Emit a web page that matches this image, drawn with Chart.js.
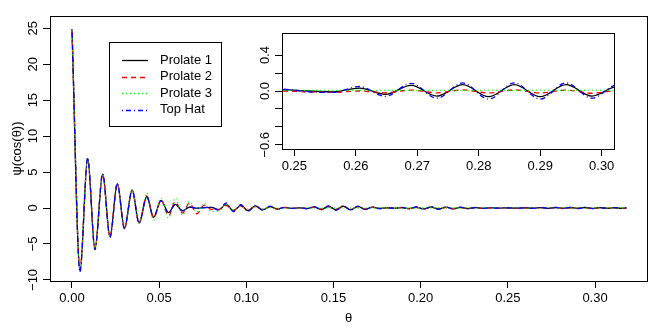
<!DOCTYPE html>
<html>
<head>
<meta charset="utf-8">
<script src="https://cdn.jsdelivr.net/npm/chart.js@4.4.0/dist/chart.umd.min.js"></script>
<style>
  html, body { margin: 0; padding: 0; background: #fff; }
  #wrap { position: relative; width: 664px; height: 332px; }
  #main { position: absolute; left: 0; top: 0; }
  #inset { position: absolute; left: 240px; top: 25px; }
</style>
</head>
<body>
<div id="wrap">
  <canvas id="main" width="664" height="332"></canvas>
  <canvas id="inset" width="384" height="150"></canvas>
</div>
<script>
// theta positions (peaks / troughs)
const theta = [0, 0.0046, 0.0090, 0.0132, 0.0176, 0.0218, 0.0260, 0.0301, 0.0345, 0.0385,
  0.0429, 0.0468, 0.0511, 0.0554, 0.0592, 0.0634, 0.0674, 0.0716, 0.0758, 0.0800,
  0.0842, 0.0884, 0.0926, 0.0968, 0.1010, 0.1052, 0.1094, 0.1136, 0.1178, 0.1220,
  0.1262, 0.1304, 0.1346, 0.1388, 0.1430, 0.1472, 0.1514, 0.1556, 0.1598, 0.1640,
  0.1682, 0.1724, 0.1766, 0.1808, 0.1850, 0.1892, 0.1934, 0.1976, 0.2018, 0.2060,
  0.2102, 0.2144, 0.2186, 0.2228, 0.2270, 0.2312, 0.2354, 0.2396, 0.2438, 0.2480,
  0.2522, 0.2564, 0.2606, 0.2648, 0.2690, 0.2732, 0.2774, 0.2816, 0.2858, 0.2900,
  0.2942, 0.2984, 0.3026, 0.3068, 0.3110, 0.3152, 0.3180];

const prolate1 = [24.8, -8.8, 6.9, -5.7, 4.7, -4.0, 3.4, -2.8, 2.5, -2.1,
  1.6, -1.3, 1.05, -0.65, 0.5, -0.37, 0.12, -0.03, 0.04, 0.08,
  -0.25, 0.5, -0.4, 0.37, -0.36, 0.3, -0.27, 0.2, -0.15, 0.1,
  -0.05, 0.03, -0.08, 0.15, -0.22, 0.25, -0.26, 0.26, -0.25, 0.22,
  -0.18, 0.12, -0.07, 0.03, -0.03, 0.06, -0.09, 0.12, -0.13, 0.14,
  -0.14, 0.13, -0.12, 0.1, -0.08, 0.06, -0.04, 0.03, -0.02, 0.015,
  0.0, -0.01, 0.033, -0.037, 0.063, -0.056, 0.07, -0.063, 0.07, -0.063,
  0.07, -0.056, 0.05, -0.05, 0.045, -0.04, 0.02];

const prolate2 = [24.6, -8.4, 6.8, -5.6, 4.7, -4.0, 3.4, -2.8, 2.5, -2.0,
  1.7, -1.4, 1.1, -1.1, 0.9, -0.7, 0.7, -0.8, 0.4, -0.2,
  -0.2, 0.35, -0.3, 0.25, -0.25, 0.2, -0.18, 0.12, -0.1, 0.06,
  -0.04, 0.02, -0.05, 0.1, -0.14, 0.16, -0.17, 0.17, -0.16, 0.14,
  -0.11, 0.08, -0.05, 0.02, -0.02, 0.04, -0.06, 0.07, -0.08, 0.08,
  -0.08, 0.07, -0.07, 0.05, -0.05, 0.03, -0.03, 0.01, -0.02, 0.0,
  -0.01, -0.015, 0.0, -0.02, 0.01, -0.02, 0.012, -0.022, 0.012, -0.022,
  0.01, -0.025, 0.005, -0.02, 0.005, -0.015, 0.0];

const prolate3 = [24.7, -8.6, 6.9, -5.6, 4.6, -3.9, 3.3, -2.7, 2.4, -2.0,
  2.1, -1.7, 1.4, -1.4, 1.4, -1.0, 0.9, -0.6, 0.7, -0.5,
  -0.4, 0.5, -0.3, 0.2, -0.15, 0.1, -0.08, 0.05, -0.04, 0.03,
  -0.02, 0.02, -0.02, 0.03, -0.03, 0.03, -0.03, 0.03, -0.03, 0.02,
  -0.02, 0.02, -0.01, 0.01, 0.0, 0.01, 0.0, 0.01, 0.0, 0.01,
  0.0, 0.01, 0.0, 0.01, 0.005, 0.01, 0.005, 0.01, 0.005, 0.008,
  0.006, 0.008, 0.006, 0.008, 0.005, 0.008, 0.005, 0.009, 0.005, 0.009,
  0.005, 0.009, 0.006, 0.009, 0.006, 0.008, 0.007];

const topHat = [24.9, -8.9, 7.0, -5.8, 4.8, -4.1, 3.4, -2.9, 2.5, -2.1,
  1.6, -1.3, 1.0, -0.7, 0.5, -0.4, 0.15, -0.05, 0.06, 0.1,
  -0.3, 0.7, -0.5, 0.45, -0.45, 0.36, -0.33, 0.25, -0.18, 0.12,
  -0.06, 0.04, -0.1, 0.18, -0.27, 0.3, -0.32, 0.32, -0.3, 0.27,
  -0.22, 0.15, -0.09, 0.04, -0.04, 0.08, -0.11, 0.15, -0.16, 0.17,
  -0.17, 0.16, -0.15, 0.12, -0.1, 0.07, -0.05, 0.035, -0.025, 0.02,
  -0.01, -0.015, 0.05, -0.06, 0.085, -0.08, 0.09, -0.09, 0.09, -0.09,
  0.09, -0.08, 0.07, -0.065, 0.06, -0.05, 0.03];

const seriesNames = ['Prolate 1', 'Prolate 2', 'Prolate 3', 'Top Hat'];

const xTicks = [0, 0.05, 0.10, 0.15, 0.20, 0.25, 0.30];
const yTicks = [-10, -5, 0, 5, 10, 15, 20, 25];
const xInsetTicks = [0.25, 0.26, 0.27, 0.28, 0.29, 0.30];
const yInsetTicks = [-0.6, -0.4, -0.2, 0, 0.2, 0.4];
const yInsetLabels = ['\u22120.6', '', '', '0.0', '', '0.4'];

const colors = ['#000000', '#ff0000', '#00ff00', '#0000ff'];
const dashes = [[], [5, 4], [1, 3], [1, 3, 5, 3]];

Chart.defaults.font.family = "'Liberation Sans', Arial, sans-serif";
Chart.defaults.font.size = 13;
Chart.defaults.color = '#000';

function makeSets() {
  return [prolate1, prolate2, prolate3, topHat].map(function(vals, k) {
    return {
      label: seriesNames[k],
      data: theta.map(function(t, i) { return {x: t, y: vals[i]}; }),
      borderColor: colors[k],
      borderDash: dashes[k],
      borderWidth: 1.3,
      pointRadius: 0,
      cubicInterpolationMode: 'monotone',
      fill: false,
      order: 4 - k
    };
  });
}

function minus(v) {
  return v < 0 ? '\u2212' + Math.abs(v) : String(v);
}

// frame round the plot region (R style box), optional white fill
const boxPlugin = {
  id: 'box',
  beforeDatasetsDraw(chart, args, opts) {
    if (!opts.fill) return;
    const a = chart.chartArea, ctx = chart.ctx;
    ctx.save();
    ctx.fillStyle = '#fff';
    ctx.fillRect(a.left, a.top, a.right - a.left, a.bottom - a.top);
    ctx.restore();
  },
  afterDraw(chart) {
    const a = chart.chartArea, ctx = chart.ctx;
    ctx.save();
    ctx.strokeStyle = '#000';
    ctx.lineWidth = 1;
    ctx.setLineDash([]);
    ctx.strokeRect(Math.round(a.left) + 0.5, Math.round(a.top) + 0.5,
      Math.round(a.right - a.left), Math.round(a.bottom - a.top));
    ctx.restore();
  }
};

const legendPlugin = {
  id: 'rlegend',
  afterDraw(chart) {
    const ctx = chart.ctx;
    ctx.save();
    ctx.fillStyle = '#fff';
    ctx.fillRect(109.5, 42.5, 112, 84);
    ctx.strokeStyle = '#000';
    ctx.lineWidth = 1;
    ctx.strokeRect(109.5, 42.5, 112, 84);
    ctx.font = "13px 'Liberation Sans', Arial, sans-serif";
    ctx.textBaseline = 'middle';
    ctx.textAlign = 'left';
    seriesNames.forEach(function(name, k) {
      const y = 60 + k * 16.5;
      ctx.strokeStyle = colors[k];
      ctx.lineWidth = 1.3;
      ctx.setLineDash(dashes[k]);
      ctx.beginPath();
      ctx.moveTo(122, Math.round(y) + 0.5);
      ctx.lineTo(148, Math.round(y) + 0.5);
      ctx.stroke();
      ctx.setLineDash([]);
      ctx.fillStyle = '#000';
      ctx.fillText(name, 160, y);
    });
    ctx.restore();
  }
};

function axisX(min, max, ticks, height, title) {
  return {
    type: 'linear', min: min, max: max,
    afterBuildTicks: function(s) { s.ticks = ticks.map(function(v) { return {value: v}; }); },
    afterFit: function(s) { s.height = height; },
    ticks: { padding: 3, maxRotation: 0, autoSkip: false,
      callback: function(v) { return v.toFixed(2); } },
    grid: { drawOnChartArea: false, drawTicks: true, tickLength: 7, color: '#000' },
    border: { display: false },
    title: title
  };
}

function axisY(min, max, ticks, width, labels, pad, title) {
  return {
    type: 'linear', min: min, max: max,
    afterBuildTicks: function(s) { s.ticks = ticks.map(function(v) { return {value: v}; }); },
    afterFit: function(s) { s.width = width; },
    ticks: {
      minRotation: 90, maxRotation: 90, crossAlign: 'center', padding: pad, autoSkip: false,
      callback: function(v, i) { return labels ? labels[i] : minus(v); }
    },
    grid: { drawOnChartArea: false, drawTicks: true, tickLength: 7, color: '#000' },
    border: { display: false },
    title: title
  };
}

new Chart(document.getElementById('main'), {
  type: 'line',
  data: { datasets: makeSets() },
  options: {
    responsive: false,
    animation: false,
    events: [],
    layout: { padding: { left: 0, top: 16, right: 17, bottom: 0 } },
    plugins: { legend: { display: false }, tooltip: { enabled: false }, box: { fill: false } },
    scales: {
      x: axisX(-0.0126, 0.3298, xTicks, 51,
        { display: true, text: '\u03b8', padding: { top: 0, bottom: 6 } }),
      y: axisY(-10.15, 26.7, yTicks, 50, null, -1,
        { display: true, text: '\u03c8(cos(\u03b8))', padding: { top: 10, bottom: 0 } })
    }
  },
  plugins: [boxPlugin, legendPlugin]
});

new Chart(document.getElementById('inset'), {
  type: 'line',
  data: { datasets: makeSets() },
  options: {
    responsive: false,
    animation: false,
    events: [],
    layout: { padding: { left: 0, top: 8, right: 10, bottom: 0 } },
    plugins: { legend: { display: false }, tooltip: { enabled: false }, box: { fill: true } },
    scales: {
      x: axisX(0.248, 0.302, xInsetTicks, 26, { display: false }),
      y: axisY(-0.646, 0.646, yInsetTicks, 42, yInsetLabels, -2.8, { display: false })
    }
  },
  plugins: [boxPlugin]
});
</script>
</body>
</html>
